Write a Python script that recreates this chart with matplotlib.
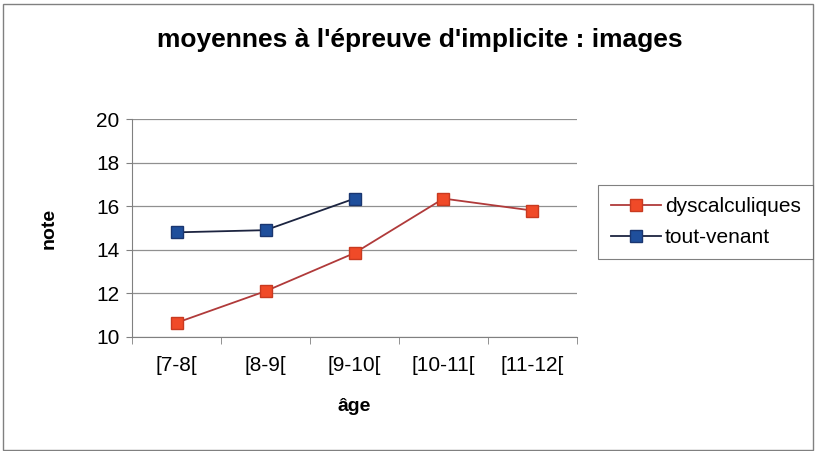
import matplotlib.pyplot as plt
import matplotlib.patches as patches

categories = ["[7-8[", "[8-9[", "[9-10[", "[10-11[", "[11-12["]
dyscalculiques = [10.65, 12.1, 13.85, 16.35, 15.8]
tout_venant = [14.8, 14.9, 16.35]

plt.rcParams['font.family'] = ['Liberation Sans', 'DejaVu Sans']

fig = plt.figure(figsize=(8.16, 4.51), dpi=100)
ax = fig.add_axes([0.162, 0.253, 0.545, 0.483])

x = range(len(categories))
ax.plot(x, dyscalculiques, color="#b03a3a", lw=1.3, marker="s", markersize=9,
        markerfacecolor="#f04a28", markeredgecolor="#c83a20", label="dyscalculiques")
ax.plot(range(len(tout_venant)), tout_venant, color="#1c2440", lw=1.3, marker="s", markersize=9,
        markerfacecolor="#1f4f9c", markeredgecolor="#1a3670", label="tout-venant")

ax.set_xlim(-0.5, len(categories) - 0.5)
ax.set_ylim(10, 20)
ax.set_yticks([10, 12, 14, 16, 18, 20])
ax.set_xticks(x)
ax.set_xticklabels(categories)
ax.set_xticks([i - 0.5 for i in range(len(categories) + 1)], minor=True)
ax.tick_params(axis='x', which='major', length=0, pad=14, labelsize=15)
ax.tick_params(axis='x', which='minor', length=5, color="#808080", direction='out')
ax.tick_params(axis='y', length=4, color="#808080", labelsize=15, pad=5)
ax.grid(axis='y', color="#909090", lw=0.9)
ax.set_axisbelow(True)
for s in ["top", "right"]:
    ax.spines[s].set_visible(False)
for s in ["left", "bottom"]:
    ax.spines[s].set_color("#808080")

ax.set_xlabel("âge", fontsize=14, fontweight="bold", labelpad=16)
ax.set_ylabel("note", fontsize=14, fontweight="bold", labelpad=28)
fig.text(0.515, 0.912, "moyennes à l'épreuve d'implicite : images", ha="center",
         va="center", fontsize=19, fontweight="bold")

leg = fig.legend(loc="upper left", bbox_to_anchor=(0.733, 0.59), borderaxespad=0,
                 fontsize=15, frameon=True, fancybox=False, edgecolor="#606060",
                 handlelength=2.4, borderpad=0.6, labelspacing=0.55, handletextpad=0.2)
leg.get_frame().set_linewidth(0.8)

fig.patches.append(patches.Rectangle((0.004, 0.003), 0.992, 0.988, transform=fig.transFigure,
                                     fill=False, edgecolor="#808080", lw=1))

fig.savefig("out.png", dpi=100)
